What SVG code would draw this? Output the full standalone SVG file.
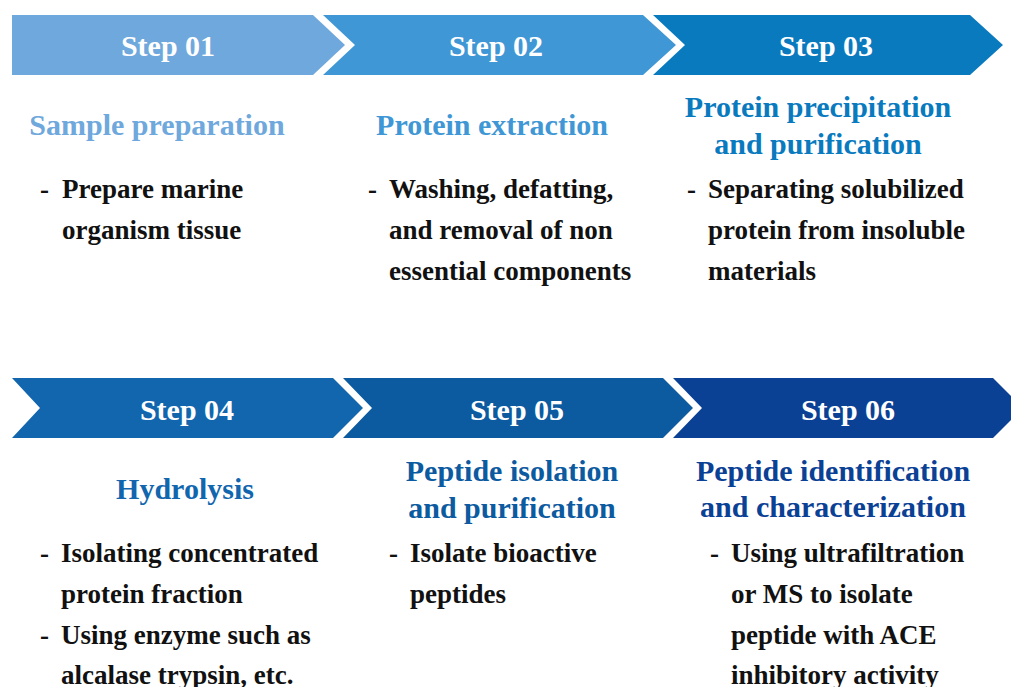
<svg xmlns="http://www.w3.org/2000/svg" width="1011" height="687" viewBox="0 0 1011 687">
<style>
text{font-family:"Liberation Serif","Times New Roman",serif;font-weight:bold}
.lbl{fill:#fff;font-size:30px;text-anchor:middle}
.ttl{font-size:30px;text-anchor:middle}
.body{fill:#111;font-size:27px}
</style>
<rect width="1011" height="687" fill="#fff"/>
<g id="step01">
<polygon points="12,15 313,15 345,45 313,75 12,75" fill="#6fa8dc"/>
<text class="lbl" x="168" y="56">Step 01</text>
<text class="ttl" x="157" y="135" fill="#6fa8dc">Sample preparation</text>
<text class="body" x="40" y="198">-</text>
<text class="body" x="62" y="198">Prepare marine</text>
<text class="body" x="62" y="239">organism tissue</text>
</g>
<g id="step02">
<polygon points="323,15 643,15 676,45 643,75 323,75 355,45" fill="#3f97d5"/>
<text class="lbl" x="496" y="56">Step 02</text>
<text class="ttl" x="492" y="135" fill="#3f97d5">Protein extraction</text>
<text class="body" x="368" y="198">-</text>
<text class="body" x="389" y="198">Washing, defatting,</text>
<text class="body" x="389" y="239">and removal of non</text>
<text class="body" x="389" y="280">essential components</text>
</g>
<g id="step03">
<polygon points="653,15 970,15 1003,45 970,75 653,75 685,45" fill="#0a7abf"/>
<text class="lbl" x="826" y="56">Step 03</text>
<text class="ttl" x="818" y="117" fill="#0a7abf">Protein precipitation</text>
<text class="ttl" x="818" y="154" fill="#0a7abf">and purification</text>
<text class="body" x="687" y="198">-</text>
<text class="body" x="708" y="198">Separating solubilized</text>
<text class="body" x="708" y="239">protein from insoluble</text>
<text class="body" x="708" y="280">materials</text>
</g>
<g id="step04">
<polygon points="12,378 333,378 363,408 333,438 12,438 40,408" fill="#1166ae"/>
<text class="lbl" x="187" y="420">Step 04</text>
<text class="ttl" x="185" y="499" fill="#1166ae">Hydrolysis</text>
<text class="body" x="40" y="562">-</text>
<text class="body" x="61" y="562">Isolating concentrated</text>
<text class="body" x="61" y="603">protein fraction</text>
<text class="body" x="40" y="644">-</text>
<text class="body" x="61" y="644">Using enzyme such as</text>
<text class="body" x="61" y="684">alcalase trypsin, etc.</text>
</g>
<g id="step05">
<polygon points="343,378 663,378 693,408 663,438 343,438 372,408" fill="#0c5aa0"/>
<text class="lbl" x="517" y="420">Step 05</text>
<text class="ttl" x="512" y="481" fill="#0c5aa0">Peptide isolation</text>
<text class="ttl" x="512" y="518" fill="#0c5aa0">and purification</text>
<text class="body" x="389" y="562">-</text>
<text class="body" x="410" y="562">Isolate bioactive</text>
<text class="body" x="410" y="603">peptides</text>
</g>
<g id="step06">
<polygon points="673,378 993,378 1023,408 993,438 673,438 702,408" fill="#0b4195"/>
<text class="lbl" x="848" y="420">Step 06</text>
<text class="ttl" x="833" y="481" fill="#0b4195">Peptide identification</text>
<text class="ttl" x="833" y="517" fill="#0b4195">and characterization</text>
<text class="body" x="710" y="562">-</text>
<text class="body" x="731" y="562">Using ultrafiltration</text>
<text class="body" x="731" y="603">or MS to isolate</text>
<text class="body" x="731" y="644">peptide with ACE</text>
<text class="body" x="731" y="684">inhibitory activity</text>
</g>
<g id="connectors"/>
</svg>
